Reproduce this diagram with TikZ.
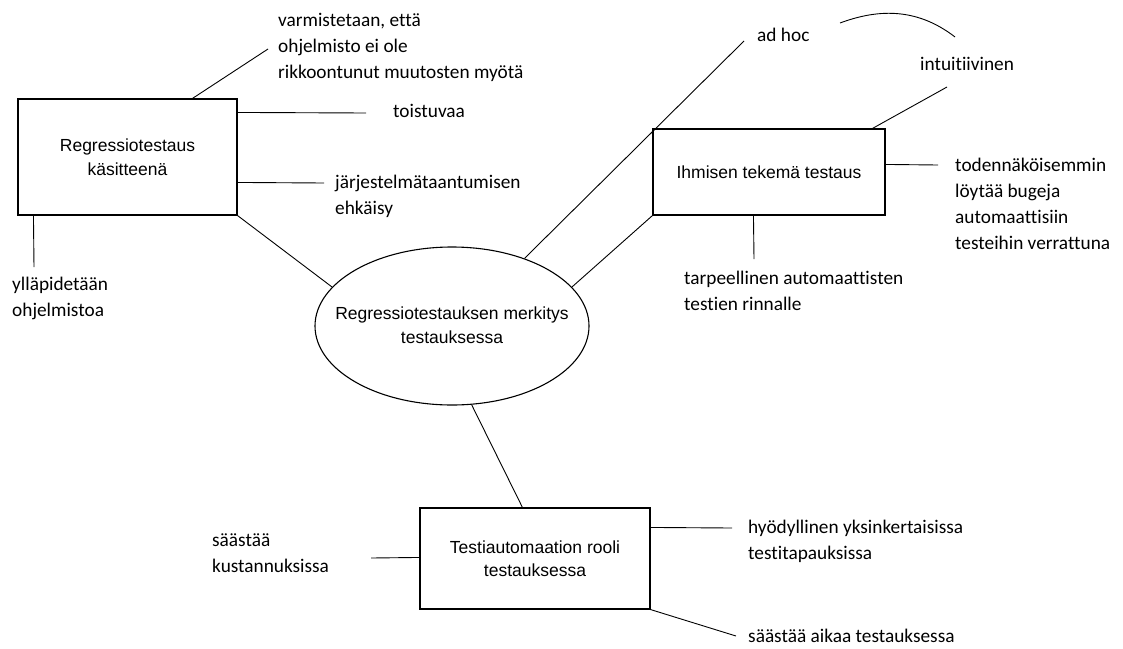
\documentclass[tikz,border=0pt]{standalone}
\usepackage{fontspec}
\setmainfont{Carlito}[Ligatures=NoCommon, Contextuals=NoAlternate]
\newfontfamily\boxfont{Liberation Sans}
\usetikzlibrary{shapes.geometric}

\tikzset{
  topic/.style={draw, line width=1.1pt, inner sep=0pt, align=center,
    font=\boxfont\fontsize{17.5}{23.5}\selectfont},
  topictext/.style={inner sep=0pt, align=center,
    font=\boxfont\fontsize{17.5}{23.5}\selectfont},
  note/.style={anchor=west, inner sep=0pt, align=left,
    font=\fontsize{19.3}{26}\selectfont},
  link/.style={line width=0.9pt}
}

\begin{document}
\begin{tikzpicture}[x=1pt, y=-1pt]
  \useasboundingbox (0,0) rectangle (1123,648);

  % central idea: the outline and its text
  \node[draw, line width=1.1pt, ellipse, inner sep=0pt,
        minimum width=274pt, minimum height=158pt] (e) at (452,326) {};
  \node[topictext] (et) at (452,325) {Regressiotestauksen merkitys\\testauksessa};

  % three sub-topics
  \node[topic, minimum width=219pt, minimum height=116pt] (b1) at (127.5,157)
    {Regressiotestaus\\käsitteenä};
  \node[topic, minimum width=232pt, minimum height=86pt] (b2) at (769,172)
    {Ihmisen tekemä testaus};
  \node[topic, minimum width=230pt, minimum height=101pt] (b3) at (535,558.5)
    {Testiautomaation rooli\\testauksessa};

  % notes
  \node[note] (n1) at (278,47) {varmistetaan, että\\ohjelmisto ei ole\\rikkoontunut muutosten myötä};
  \node[note] (n2) at (393,111) {toistuvaa};
  \node[note] (n3) at (335,196) {järjestelmätaantumisen\\ehkäisy};
  \node[note] (n4) at (12,298) {ylläpidetään\\ohjelmistoa};
  \node[note] (n5) at (757,35) {ad hoc};
  \node[note] (n6) at (920,64) {intuitiivinen};
  \node[note] (n7) at (955,204) {todennäköisemmin\\löytää bugeja\\automaattisiin\\testeihin verrattuna};
  \node[note] (n8) at (684,291) {tarpeellinen automaattisten\\testien rinnalle};
  \node[note] (n9) at (212,553) {säästää\\kustannuksissa};
  \node[note] (n10) at (748,541) {hyödyllinen yksinkertaisissa\\testitapauksissa};
  \node[note] (n11) at (748,636) {säästää aikaa testauksessa};

  % free ends of the note lines
  \coordinate (t1) at (268,49);
  \coordinate (t2) at (366,113);
  \coordinate (t3) at (324,183);
  \coordinate (t4) at (34,267);
  \coordinate (t5) at (744,41);
  \coordinate (t6) at (947,87);
  \coordinate (t7) at (938,165);
  \coordinate (t8) at (754,259);
  \coordinate (t9) at (371,558);
  \coordinate (t10) at (732,528);
  \coordinate (t11) at (736,636);

  % sub-topics to the central idea
  \draw[link] (b1.south east) -- (e.162);
  \draw[link] (b2.south west) -- (e.18);
  \draw[link] (e.-76) -- ([xshift=103pt]b3.north west);

  % note lines
  \draw[link] ([xshift=175pt]b1.north west) -- (t1);
  \draw[link] ([yshift=-14pt]b1.north east) -- (t2);
  \draw[link] ([yshift=-84pt]b1.north east) -- (t3);
  \draw[link] ([xshift=16pt]b1.south west) -- (t4);
  \draw[link] (e.43) -- (t5);
  \draw[link] ([xshift=220pt]b2.north west) -- (t6);
  \draw[link] ([yshift=-36pt]b2.north east) -- (t7);
  \draw[link] ([xshift=101pt]b2.south west) -- (t8);
  \draw[link] ([yshift=-50pt]b3.north west) -- (t9);
  \draw[link] ([yshift=-20pt]b3.north east) -- (t10);
  \draw[link] (b3.south east) -- (t11);

  % arc above "intuitiivinen"
  \coordinate (a0) at (840,23);
  \coordinate (a1) at (955,37);
  \draw[link] (a0) .. controls (875,10) and (915,6) .. (a1);
\end{tikzpicture}
\end{document}
